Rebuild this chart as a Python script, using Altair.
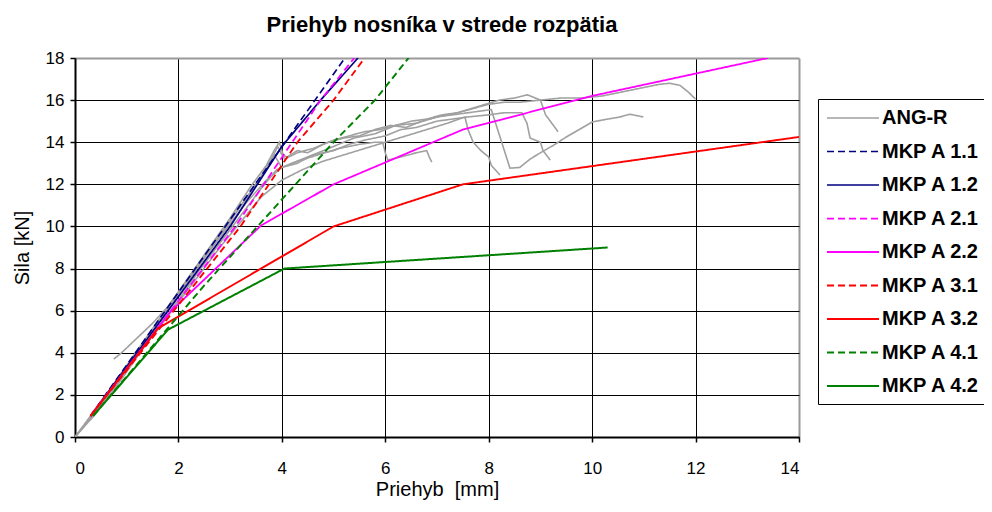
import altair as alt
import pandas as pd

SERIES = ["ANG-R", "MKP A 1.1", "MKP A 1.2", "MKP A 2.1", "MKP A 2.2",
          "MKP A 3.1", "MKP A 3.2", "MKP A 4.1", "MKP A 4.2"]
COLORS = ["#A0A0A0", "#000080", "#000080", "#FF00FF", "#FF00FF",
          "#FF0000", "#FF0000", "#008000", "#008000"]
DASHES = [[1, 0], [7, 4], [1, 0], [7, 4], [1, 0], [7, 4], [1, 0], [7, 4], [1, 0]]
WIDTHS = [1.6, 2.0, 1.3, 2.0, 1.3, 2.0, 1.3, 2.0, 1.3]

X_TICKS = [0, 2, 4, 6, 8, 10, 12, 14]
Y_TICKS = [0, 2, 4, 6, 8, 10, 12, 14, 16, 18]

# --- ANG-R test curves (grey), one list pair per specimen ---
angA_x = [0, 0.2, 0.5, 0.8, 1.0, 1.3, 1.6, 2.0, 2.3, 2.6, 3.0, 3.3, 3.6, 3.8, 3.92, 4.0, 4.1, 4.3, 4.5, 4.8,
          5.0, 5.3, 5.6, 5.9, 6.2, 6.5, 6.8, 7.1, 7.4, 7.7, 8.0, 8.3, 8.6, 9.0, 9.4, 9.8, 10.2, 10.6, 11.0,
          11.3, 11.5, 11.7, 11.85, 12.0]
angA_y = [0, 0.6, 1.6, 2.6, 3.3, 4.3, 5.4, 6.8, 7.8, 8.9, 10.3, 11.3, 12.4, 13.2, 13.8, 13.4, 13.3, 13.6, 13.5, 13.9,
          14.1, 14.3, 14.5, 14.6, 14.8, 15.0, 15.1, 15.3, 15.4, 15.6, 15.8, 15.9, 15.9, 16.0, 16.1, 16.1, 16.2, 16.4, 16.6,
          16.75, 16.8, 16.7, 16.4, 16.05]

angB_x = [0, 0.3, 0.6, 1.0, 1.4, 1.8, 2.2, 2.6, 3.0, 3.4, 3.7, 3.85, 3.95, 4.05, 4.3, 4.6, 4.9, 5.2, 5.5, 5.8,
          6.1, 6.4, 6.7, 7.0, 7.3, 7.6, 7.9, 8.05, 8.41, 8.6, 8.8, 9.0, 9.25, 9.5, 9.75, 10.0, 10.3, 10.54,
          10.73, 10.99]
angB_y = [0, 1.0, 2.0, 3.4, 4.8, 6.2, 7.6, 9.0, 10.4, 11.9, 12.9, 13.6, 14.0, 13.2, 13.5, 13.7, 14.0, 14.2, 14.3, 14.6,
          14.8, 14.7, 15.0, 15.2, 15.3, 15.4, 15.5, 15.55, 12.77, 12.8, 13.2, 13.5, 13.85, 14.25, 14.6, 14.96, 15.1, 15.2,
          15.33, 15.2]

angC_x = [0, 0.3, 0.7, 1.1, 1.5, 1.9, 2.3, 2.7, 3.1, 3.5, 3.75, 3.85, 4.0, 4.3, 4.6, 5.0, 5.3, 5.6, 6.0, 6.3,
          6.6, 7.0, 7.3, 7.6, 8.0, 8.3, 8.64, 8.74, 8.8, 9.0, 9.05, 9.19]
angC_y = [0, 0.9, 2.2, 3.6, 5.0, 6.4, 7.8, 9.2, 10.6, 12.0, 12.9, 13.4, 12.8, 13.0, 13.4, 13.6, 13.9, 14.1, 14.3, 14.6,
          14.7, 15.0, 15.1, 15.2, 15.3, 15.4, 15.4, 14.9, 14.2, 14.0, 13.6, 13.15]

angD_x = [0, 0.4, 0.8, 1.2, 1.6, 2.0, 2.4, 2.8, 3.2, 3.6, 3.9, 4.2, 4.6, 5.0, 5.4, 5.8, 6.2, 6.6, 7.0, 7.4,
          7.8, 8.2, 8.5, 8.75, 9.0, 9.1, 9.34]
angD_y = [0, 1.1, 2.4, 3.8, 5.2, 6.5, 7.9, 9.2, 10.5, 11.8, 12.7, 13.0, 13.4, 13.8, 14.2, 14.4, 14.8, 14.9, 15.2, 15.4,
          15.7, 16.0, 16.1, 16.25, 16.0, 15.3, 14.5]

angE_x = [0, 0.4, 0.8, 1.2, 1.6, 2.0, 2.4, 2.8, 3.2, 3.6, 4.0, 4.4, 4.8, 5.2, 5.6, 6.0, 6.4, 6.8, 7.2, 7.54,
          7.6, 7.7, 7.85, 8.0, 8.05, 8.22]
angE_y = [0, 1.2, 2.5, 3.9, 5.1, 6.4, 7.7, 9.0, 10.2, 11.4, 12.2, 12.7, 13.1, 13.4, 13.7, 14.0, 14.3, 14.6, 14.9, 15.2,
          14.6, 14.0, 13.6, 13.3, 12.9, 12.44]

angF_x = [0.75, 0.9, 1.2, 1.5, 1.8, 2.1, 2.5, 2.9, 3.3, 3.7, 4.0, 4.3, 4.7, 5.1, 5.5, 5.8, 5.95, 6.0, 6.05, 6.3,
          6.6, 6.8, 6.85, 6.9]
angF_y = [3.7, 4.0, 4.7, 5.4, 6.2, 7.2, 8.5, 9.8, 11.1, 12.2, 12.8, 13.1, 13.4, 13.7, 13.9, 14.0, 14.0, 13.5, 13.15, 13.3,
          13.5, 13.6, 13.3, 13.05]

# --- MKP (FE model) curves ---
mkp11_x = [0.3, 5.22]
mkp11_y = [1.0, 18.0]
mkp12_x = [0.3, 3.0, 4.0, 4.75, 5.47]
mkp12_y = [1.0, 10.0, 13.8, 16.0, 18.0]
mkp21_x = [0.3, 3.1, 4.2, 4.75, 5.4]
mkp21_y = [1.0, 10.0, 14.0, 16.0, 18.0]
mkp22_x = [0.3, 1.84, 3.6, 5.0, 7.5, 10.0, 13.4]
mkp22_y = [1.0, 5.94, 10.05, 12.0, 14.6, 16.2, 18.0]
mkp31_x = [0.3, 3.2, 4.3, 5.0, 5.6]
mkp31_y = [1.0, 10.0, 14.0, 16.0, 18.0]
mkp32_x = [0.3, 1.6, 5.0, 7.5, 14.0]
mkp32_y = [1.0, 5.15, 10.0, 12.0, 14.25]
mkp41_x = [0.35, 2.5, 5.0, 5.8, 6.45]
mkp41_y = [1.0, 7.2, 14.0, 16.0, 18.0]
mkp42_x = [0.35, 1.8, 4.05, 10.3]
mkp42_y = [1.0, 5.1, 8.0, 9.0]

rows = []
for name, xs, ys in [("A", angA_x, angA_y), ("B", angB_x, angB_y), ("C", angC_x, angC_y),
                     ("D", angD_x, angD_y), ("E", angE_x, angE_y), ("F", angF_x, angF_y)]:
    for i, (a, b) in enumerate(zip(xs, ys)):
        rows.append({"series": "ANG-R", "curve": "ANG-" + name, "i": i, "x": a, "y": b})
for s, xs, ys in [("MKP A 1.1", mkp11_x, mkp11_y), ("MKP A 1.2", mkp12_x, mkp12_y),
                  ("MKP A 2.1", mkp21_x, mkp21_y), ("MKP A 2.2", mkp22_x, mkp22_y),
                  ("MKP A 3.1", mkp31_x, mkp31_y), ("MKP A 3.2", mkp32_x, mkp32_y),
                  ("MKP A 4.1", mkp41_x, mkp41_y), ("MKP A 4.2", mkp42_x, mkp42_y)]:
    for i, (a, b) in enumerate(zip(xs, ys)):
        rows.append({"series": s, "curve": s, "i": i, "x": a, "y": b})
df = pd.DataFrame(rows)

FONT = "Liberation Sans"

x_enc = alt.X("x:Q", scale=alt.Scale(domain=[0, 14], nice=False),
              axis=alt.Axis(values=X_TICKS, title="Priehyb\u00a0 [mm]",
                            gridColor={"condition": {"test": "datum.value == 14", "value": "#999999"}, "value": "black"},
                            gridWidth={"condition": {"test": "datum.value == 14", "value": 2}, "value": 1}))
y_enc = alt.Y("y:Q", scale=alt.Scale(domain=[0, 18], nice=False),
              axis=alt.Axis(values=Y_TICKS, title="Sila [kN]",
                            gridColor={"condition": {"test": "datum.value == 18", "value": "#999999"}, "value": "black"},
                            gridWidth={"condition": {"test": "datum.value == 18", "value": 2}, "value": 1}))
LEG = dict(title=None, orient="none", legendX=743, legendY=41)
color_enc = alt.Color("series:N", scale=alt.Scale(domain=SERIES, range=COLORS), legend=alt.Legend(**LEG))
dash_enc = alt.StrokeDash("series:N", scale=alt.Scale(domain=SERIES, range=DASHES), legend=alt.Legend(**LEG))
width_enc = alt.StrokeWidth("series:N", scale=alt.Scale(domain=SERIES, range=WIDTHS), legend=None)

base = alt.Chart(df).mark_line(clip=True).encode(
    x=x_enc, y=y_enc, color=color_enc, strokeDash=dash_enc, strokeWidth=width_enc,
    detail="curve:N", order="i:Q")

grey = base.transform_filter(alt.datum.series == "ANG-R")
fe = base.transform_filter(alt.datum.series != "ANG-R")

chart = alt.layer(grey, fe).properties(
    width=724, height=379,
    title=alt.TitleParams("Priehyb nosníka v strede rozpätia", font=FONT, fontSize=22,
                          fontWeight="bold", color="black", offset=12, dx=5),
    autosize=alt.AutoSizeParams(type="none"),
    padding={"left": 67, "top": 50, "right": 185, "bottom": 66},
).configure_view(stroke=None).configure_axis(
    labelFont=FONT, labelFontSize=17, labelColor="black",
    titleFont=FONT, titleFontSize=20, titleFontWeight="normal", titleColor="black",
    domainColor="black", domainWidth=2, tickColor="black", tickSize=5, tickWidth=1.5,
    grid=True,
).configure_axisX(labelPadding=18, titlePadding=3).configure_axisY(labelPadding=6, titlePadding=13).configure_legend(
    strokeColor="black", fillColor="white", padding=8,
    labelFont=FONT, labelFontSize=20, labelFontWeight="bold", labelColor="black",
    symbolType="M-1,0H4.2", symbolSize=400, symbolStrokeWidth=2, labelOffset=34,
    rowPadding=12.5, labelLimit=300,
)

chart.save("out.html", embed_options={"renderer": "svg", "actions": False})
